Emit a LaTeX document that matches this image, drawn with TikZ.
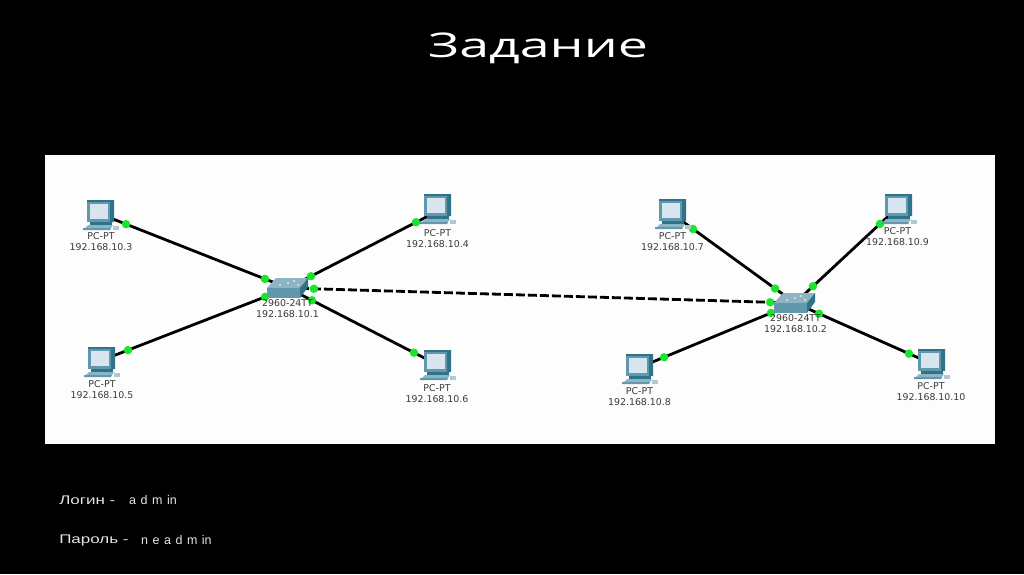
\documentclass[tikz,border=0pt]{standalone}
\usepackage{fontspec}
\setmainfont{Liberation Sans}
\newfontfamily\labelfont{DejaVu Sans}
\newfontfamily\titlefont{Open Sans}
\definecolor{netblack}{HTML}{000000}
\definecolor{netpanel}{HTML}{FDFDFD}
\definecolor{netgreen}{HTML}{17E62A}
\definecolor{netlabel}{HTML}{3A3A3A}
\definecolor{netdark}{HTML}{2F7388}
\definecolor{netmid}{HTML}{6198AD}
\definecolor{netlight}{HTML}{8DB4C3}
\definecolor{netscreen}{HTML}{D6E5EE}
\tikzset{
  pcicon/.pic={
    \fill[netdark] (-12,-14) -- (15,-14) -- (15,8) -- (-10,8) -- cycle;
    \fill[netmid] (-12,-12) -- (11,-12) -- (11,8) -- (-12,8) -- cycle;
    \fill[netscreen] (-9,-10) rectangle (9,5);
    \fill[netdark] (-9,8) -- (13,8) -- (13,11) -- (-9,11) -- cycle;
    \fill[netlight] (-11,11) -- (14,11) -- (12,14) -- (-14,14) -- cycle;
    \fill[netmid] (-16,14) -- (12,14) -- (11,16) -- (-16,16) -- cycle;
    \fill[netlight!70] (14,12) rectangle (20,16);
  },
  swicon/.pic={
    \fill[netlight] (-12,-10) -- (20,-10) -- (12,0) -- (-21,0) -- cycle;
    \fill[netmid] (-21,0) rectangle (12,10);
    \fill[netdark] (12,0) -- (20,-10) -- (20,-1) -- (12,10) -- cycle;
    \fill[white] (-8,-3) circle (.8) (0,-5) circle (.8) (6,-7) circle (.8) (10,-3) circle (.8);
  },
}
\begin{document}
\begin{tikzpicture}[x=1pt, y=-1pt,
    link/.style={draw=netblack, line width=2.8pt},
    uplink/.style={link, dash pattern=on 9pt off 3pt},
    dot/.style={circle, fill=netgreen, inner sep=0pt, minimum size=8.5pt},
    lbl/.style={font=\labelfont\fontsize{9.4}{11}\selectfont, text=netlabel, align=center, inner sep=0pt},
    note/.style={font=\fontsize{12.5}{14}\selectfont, text=white!90!black, anchor=west, inner sep=0pt, xscale=1.36},
    spaced/.style={font=\fontsize{12.5}{14}\selectfont, text=white!90!black, anchor=west, inner sep=0pt,
      execute at begin node={\spaceskip=4.5pt\relax}},
  ]
  \useasboundingbox (0,0) rectangle (1024,574);
  \fill[netblack] (0,0) rectangle (1024,574);
  \fill[netpanel] (45,155) rectangle (995,444);

  \node[text=white, inner sep=0pt, xscale=1.58] (title) at (538,48) {\titlefont\fontsize{34}{38}\selectfont Задание};

  % Anchors of the links
  \coordinate (sw1) at (288,288);
  \coordinate (sw2) at (795,303);
  \foreach \pcname/\px/\py in {pc3/99/213.5, pc4/436/212, pc5/100/361, pc6/436/364,
                               pc7/671/213, pc8/638/368, pc9/897/208, pc10/930/363}
    \coordinate (\pcname) at (\px,\py);

  % Links with their port lights
  \foreach \from/\to/\posa/\posb in {pc3/sw1/.143/.878, pc4/sw1/.135/.845, pc5/sw1/.149/.878, pc6/sw1/.149/.838,
                                     pc7/sw2/.177/.839, pc8/sw2/.166/.847, pc9/sw2/.167/.824, pc10/sw2/.156/.822}
    \draw[link] (\from) -- (\to)
      node[dot, pos=\posa] (\from-a) {} node[dot, pos=\posb] (\from-b) {};
  \draw[uplink] (sw1) -- (sw2)
    node[dot, pos=.051] (up-a) {} node[dot, pos=.951] (up-b) {};

  % Computers
  \foreach \pcname/\ix/\iy/\lx/\ly/\ip in {pc3/99/214/101/241.5/192.168.10.3, pc4/436/208/437.5/238.5/192.168.10.4,
      pc5/100/361/102/389.5/192.168.10.5, pc6/436/364/437/393.5/192.168.10.6,
      pc7/671/213/672.5/241.5/192.168.10.7, pc8/638/368/639.5/396.5/192.168.10.8,
      pc9/897/208/897.5/236.5/192.168.10.9, pc10/930/363/931/391.5/192.168.10.10} {
    \pic at (\ix,\iy) {pcicon};
    \node[lbl] (\pcname-lbl) at (\lx,\ly) {PC-PT\\\ip};
  }

  % Switches
  \pic at (288,288) {swicon};
  \pic at (795,303) {swicon};
  \node[lbl] (sw1-lbl) at (287.5,308.5) {2960-24TT\\192.168.10.1};
  \node[lbl] (sw2-lbl) at (795.5,323.5) {2960-24TT\\192.168.10.2};

  \node[note] (login) at (59,500) {Логин -};
  \node[spaced] (login-val) at (129,500) {a d m in};
  \node[note] (password) at (59,540) {Пароль -};
  \node[spaced] (password-val) at (141,540) {n e a d m in};
\end{tikzpicture}
\end{document}
